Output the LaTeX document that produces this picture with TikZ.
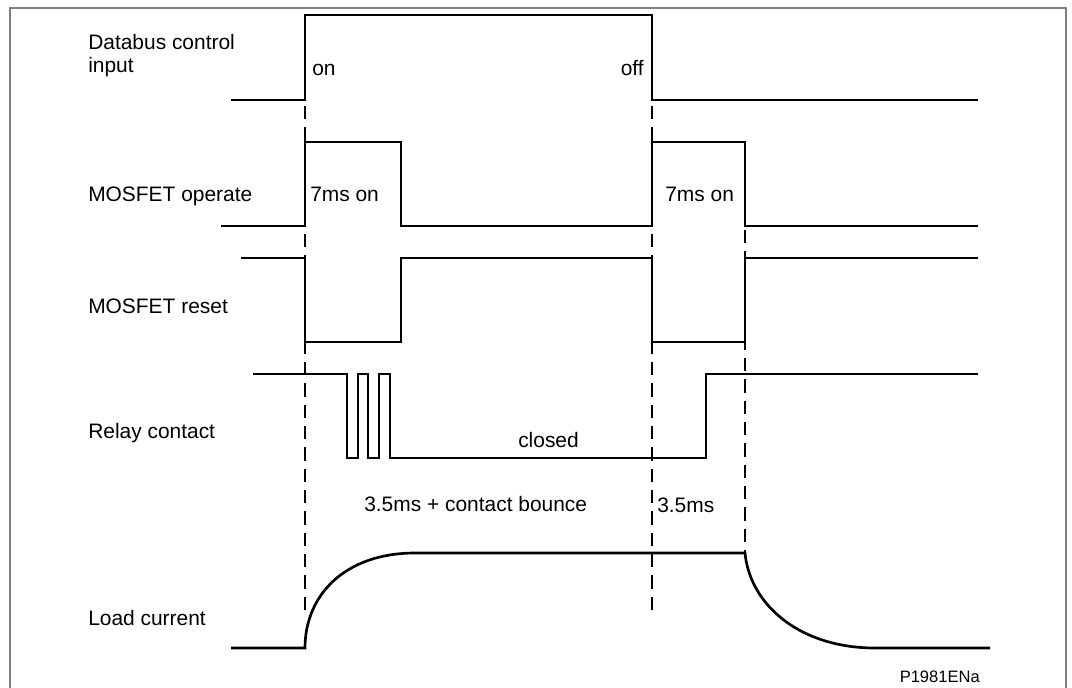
\documentclass[tikz,border=0pt]{standalone}
\usepackage{fontspec}
\setmainfont{Liberation Sans}
\usepackage{xcolor}
\usetikzlibrary{positioning}
\definecolor{framegray}{RGB}{128,128,128}
\tikzset{
  sig/.style   ={draw=black, line width=2pt, line join=miter},
  guide/.style ={draw=black, line width=1.8pt, dash pattern=on 10pt off 6pt},
  lbl/.style   ={font=\fontsize{15.7}{17.3}\selectfont, inner sep=0pt, align=left},
  ref/.style   ={font=\fontsize{12.4}{14}\selectfont, inner sep=0pt},
}
\begin{document}
\begin{tikzpicture}[x=0.75pt,y=-0.75pt]
\useasboundingbox (0,0) rectangle (1072,687);
\draw[framegray, line width=1.5pt] (10,690) |- (1066,8) -- (1066,690);

% timing guides
\draw[guide] (305,106) -- (305,610);
\draw[guide] (652,106) -- (652,618);
\draw[guide] (745,230) -- (745,553);

% waveforms
\draw[sig] (231,100) -- (305,100) -- (305,15) -- (652,15) -- (652,100) -- (978,100);
\draw[sig] (221,226) -- (305,226) -- (305,142) -- (401,142) -- (401,226) -- (652,226)
   -- (652,142) -- (745,142) -- (745,226) -- (978,226);
\draw[sig] (241,258) -- (305,258) -- (305,342) -- (401,342) -- (401,258) -- (652,258)
   -- (652,342) -- (745,342) -- (745,258) -- (978,258);
\draw[sig] (253,374) -- (347,374) -- (347,458) -- (358,458) -- (358,374) -- (368,374)
   -- (368,458) -- (379,458) -- (379,374) -- (390,374) -- (390,458) -- (706,458)
   -- (706,374) -- (978,374);
\draw[sig] (231,648) -- (305,648) .. controls (305,595) and (345,553) .. (415,553)
   -- (745,553) .. controls (750,605) and (800,648) .. (875,648) -- (990,648);

% row labels
\node[lbl,anchor=north west] (databus) at (88,34) {Databus control\\input};
\node[lbl,anchor=base west] (operate) at (88,201) {MOSFET operate};
\node[lbl,anchor=base west] (reset) at (88,313) {MOSFET reset};
\node[lbl,anchor=base west] (relay) at (88,438) {Relay contact};
\node[lbl,anchor=base west] (load) at (88,625) {Load current};

% annotations
\node[lbl,anchor=base west] (on) at (312,75) {on};
\node[lbl,anchor=base east] (off) at (644,75) {off};
\node[lbl,anchor=base west] (opon) at (310,201) {7ms on};
\node[lbl,anchor=base west] (opoff) at (665,201) {7ms on};
\node[lbl,anchor=base west] (closed) at (518,447) {closed};
\node[lbl,anchor=base west] (bounce) at (364,511) {3.5ms + contact bounce};
\node[lbl,anchor=base west] (release) at (657,512) {3.5ms};
\node[ref,anchor=base east] (fig) at (980,682) {P1981ENa};
\end{tikzpicture}
\end{document}
